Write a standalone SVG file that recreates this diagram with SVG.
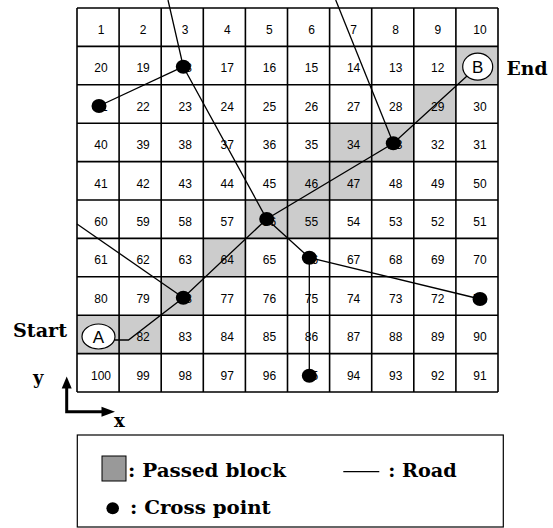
<svg xmlns="http://www.w3.org/2000/svg" width="553" height="528" viewBox="0 0 553 528">
<style>
.bg{fill:#ffffff}
.pass{fill:#cccccc}
.grid{stroke:#000;stroke-width:1.6;fill:none}
.num{font-family:"Liberation Sans",Arial,sans-serif;font-size:12px;fill:#000;text-anchor:middle}
.road{stroke:#000;stroke-width:1.3;fill:none}
.dot{fill:#000}
.ab{fill:#fff;stroke:#000;stroke-width:1.2}
.abt{font-family:"Liberation Sans",Arial,sans-serif;font-size:17px;fill:#000;text-anchor:middle}
.lbl{font-family:"DejaVu Serif",serif;font-weight:bold;font-size:18px;fill:#000}
.leg{font-family:"DejaVu Serif",serif;font-weight:bold;font-size:19px;fill:#000}
</style>
<rect class="bg" x="0" y="0" width="553" height="528"/>
<g id="grid">
  <g id="passed-blocks">
    <rect class="pass" x="455.9" y="46.4" width="42.1" height="38.4"/>
    <rect class="pass" x="413.8" y="84.8" width="42.1" height="38.4"/>
    <rect class="pass" x="329.6" y="123.2" width="84.2" height="38.4"/>
    <rect class="pass" x="287.5" y="161.6" width="84.2" height="38.4"/>
    <rect class="pass" x="245.4" y="200" width="84.2" height="38.4"/>
    <rect class="pass" x="203.3" y="238.4" width="42.1" height="38.4"/>
    <rect class="pass" x="161.2" y="276.8" width="42.1" height="38.4"/>
    <rect class="pass" x="77" y="315.2" width="84.2" height="38.4"/>
  </g>
  <path class="grid" d="M77 8V392M119.1 8V392M161.2 8V392M203.3 8V392M245.4 8V392M287.5 8V392M329.6 8V392M371.7 8V392M413.8 8V392M455.9 8V392M498 8V392M77 8H498M77 46.4H498M77 84.8H498M77 123.2H498M77 161.6H498M77 200H498M77 238.4H498M77 276.8H498M77 315.2H498M77 353.6H498M77 392H498"/>
  <g id="numbers">
    <text class="num" x="101" y="34">1</text><text class="num" x="143.1" y="34">2</text><text class="num" x="185.2" y="34">3</text><text class="num" x="227.3" y="34">4</text><text class="num" x="269.4" y="34">5</text><text class="num" x="311.5" y="34">6</text><text class="num" x="353.6" y="34">7</text><text class="num" x="395.7" y="34">8</text><text class="num" x="437.8" y="34">9</text><text class="num" x="479.9" y="34">10</text>
    <text class="num" x="101" y="72.4">20</text><text class="num" x="143.1" y="72.4">19</text><text class="num" x="185.2" y="72.4">18</text><text class="num" x="227.3" y="72.4">17</text><text class="num" x="269.4" y="72.4">16</text><text class="num" x="311.5" y="72.4">15</text><text class="num" x="353.6" y="72.4">14</text><text class="num" x="395.7" y="72.4">13</text><text class="num" x="437.8" y="72.4">12</text>
    <text class="num" x="101" y="110.8">21</text><text class="num" x="143.1" y="110.8">22</text><text class="num" x="185.2" y="110.8">23</text><text class="num" x="227.3" y="110.8">24</text><text class="num" x="269.4" y="110.8">25</text><text class="num" x="311.5" y="110.8">26</text><text class="num" x="353.6" y="110.8">27</text><text class="num" x="395.7" y="110.8">28</text><text class="num" x="437.8" y="110.8">29</text><text class="num" x="479.9" y="110.8">30</text>
    <text class="num" x="101" y="149.2">40</text><text class="num" x="143.1" y="149.2">39</text><text class="num" x="185.2" y="149.2">38</text><text class="num" x="227.3" y="149.2">37</text><text class="num" x="269.4" y="149.2">36</text><text class="num" x="311.5" y="149.2">35</text><text class="num" x="353.6" y="149.2">34</text><text class="num" x="395.7" y="149.2">33</text><text class="num" x="437.8" y="149.2">32</text><text class="num" x="479.9" y="149.2">31</text>
    <text class="num" x="101" y="187.6">41</text><text class="num" x="143.1" y="187.6">42</text><text class="num" x="185.2" y="187.6">43</text><text class="num" x="227.3" y="187.6">44</text><text class="num" x="269.4" y="187.6">45</text><text class="num" x="311.5" y="187.6">46</text><text class="num" x="353.6" y="187.6">47</text><text class="num" x="395.7" y="187.6">48</text><text class="num" x="437.8" y="187.6">49</text><text class="num" x="479.9" y="187.6">50</text>
    <text class="num" x="101" y="226">60</text><text class="num" x="143.1" y="226">59</text><text class="num" x="185.2" y="226">58</text><text class="num" x="227.3" y="226">57</text><text class="num" x="269.4" y="226">56</text><text class="num" x="311.5" y="226">55</text><text class="num" x="353.6" y="226">54</text><text class="num" x="395.7" y="226">53</text><text class="num" x="437.8" y="226">52</text><text class="num" x="479.9" y="226">51</text>
    <text class="num" x="101" y="264.4">61</text><text class="num" x="143.1" y="264.4">62</text><text class="num" x="185.2" y="264.4">63</text><text class="num" x="227.3" y="264.4">64</text><text class="num" x="269.4" y="264.4">65</text><text class="num" x="311.5" y="264.4">66</text><text class="num" x="353.6" y="264.4">67</text><text class="num" x="395.7" y="264.4">68</text><text class="num" x="437.8" y="264.4">69</text><text class="num" x="479.9" y="264.4">70</text>
    <text class="num" x="101" y="302.8">80</text><text class="num" x="143.1" y="302.8">79</text><text class="num" x="185.2" y="302.8">78</text><text class="num" x="227.3" y="302.8">77</text><text class="num" x="269.4" y="302.8">76</text><text class="num" x="311.5" y="302.8">75</text><text class="num" x="353.6" y="302.8">74</text><text class="num" x="395.7" y="302.8">73</text><text class="num" x="437.8" y="302.8">72</text><text class="num" x="479.9" y="302.8">71</text>
    <text class="num" x="143.1" y="341.2">82</text><text class="num" x="185.2" y="341.2">83</text><text class="num" x="227.3" y="341.2">84</text><text class="num" x="269.4" y="341.2">85</text><text class="num" x="311.5" y="341.2">86</text><text class="num" x="353.6" y="341.2">87</text><text class="num" x="395.7" y="341.2">88</text><text class="num" x="437.8" y="341.2">89</text><text class="num" x="479.9" y="341.2">90</text>
    <text class="num" x="101" y="379.6">100</text><text class="num" x="143.1" y="379.6">99</text><text class="num" x="185.2" y="379.6">98</text><text class="num" x="227.3" y="379.6">97</text><text class="num" x="269.4" y="379.6">96</text><text class="num" x="311.5" y="379.6">95</text><text class="num" x="353.6" y="379.6">94</text><text class="num" x="395.7" y="379.6">93</text><text class="num" x="437.8" y="379.6">92</text><text class="num" x="479.9" y="379.6">91</text>
  </g>
</g>
<g id="connectors">
  <polyline class="road" points="168,0 183.3,66.7 266.7,219 309.3,257.7 309.3,375.7"/>
  <line class="road" x1="99" y1="106" x2="183.3" y2="66.7"/>
  <line class="road" x1="335.7" y1="0" x2="393.3" y2="143.3"/>
  <polyline class="road" points="114,340 128.5,340 183.3,297.7 266.7,219 393.3,143.3 467,76"/>
  <line class="road" x1="77" y1="224" x2="183.3" y2="297.7"/>
  <line class="road" x1="309.3" y1="257.7" x2="480" y2="299"/>
</g>
<g id="cross-points">
  <ellipse id="cp18" class="dot" cx="183.3" cy="66.7" rx="7.5" ry="7"/>
  <ellipse id="cp21" class="dot" cx="99" cy="106" rx="7.5" ry="7"/>
  <ellipse id="cp33" class="dot" cx="393.3" cy="143.3" rx="7.5" ry="7"/>
  <ellipse id="cp56" class="dot" cx="266.7" cy="219" rx="7.5" ry="7"/>
  <ellipse id="cp66" class="dot" cx="309.3" cy="257.7" rx="7.5" ry="7"/>
  <ellipse id="cp78" class="dot" cx="183.3" cy="297.7" rx="7.5" ry="7"/>
  <ellipse id="cp71" class="dot" cx="480" cy="299" rx="7.5" ry="7"/>
  <ellipse id="cp95" class="dot" cx="309.3" cy="375.7" rx="7.5" ry="7"/>
</g>
<g id="nodeA">
  <ellipse class="ab" cx="98.5" cy="336.5" rx="16.5" ry="12.5"/>
  <text class="abt" x="98.5" y="342.8">A</text>
</g>
<g id="nodeB">
  <ellipse class="ab" cx="477.7" cy="66.7" rx="15" ry="13.5"/>
  <text class="abt" x="477.7" y="73">B</text>
</g>
<g id="labels">
  <text class="lbl" x="13" y="336.7" textLength="54" lengthAdjust="spacingAndGlyphs">Start</text>
  <text class="lbl" x="506.5" y="75" textLength="41" lengthAdjust="spacingAndGlyphs">End</text>
  <text class="lbl" x="33" y="384">y</text>
  <text class="lbl" x="114" y="427">x</text>
</g>
<g id="axes">
  <path d="M66.7 388 V411.7 H102" stroke="#000" stroke-width="3" fill="none"/>
  <polygon points="61.7,388.5 71.7,388.5 66.7,376.5" fill="#000"/>
  <polygon points="101.5,406.7 101.5,416.7 115,411.7" fill="#000"/>
</g>
<g id="legend">
  <rect x="77.3" y="435" width="426" height="92" fill="#fff" stroke="#000" stroke-width="1.2"/>
  <rect x="102" y="456" width="24" height="25" fill="#999999" stroke="#000" stroke-width="1"/>
  <text class="leg" x="128" y="477.3" textLength="158" lengthAdjust="spacingAndGlyphs">: Passed block</text>
  <line x1="343.3" y1="471.7" x2="379.3" y2="471.7" stroke="#000" stroke-width="1.2"/>
  <text class="leg" x="388.3" y="477.3" textLength="68.4" lengthAdjust="spacingAndGlyphs">: Road</text>
  <ellipse cx="112.7" cy="508.2" rx="6.3" ry="6" fill="#000"/>
  <text class="leg" x="130" y="513.5" textLength="140.7" lengthAdjust="spacingAndGlyphs">: Cross point</text>
</g>
</svg>
